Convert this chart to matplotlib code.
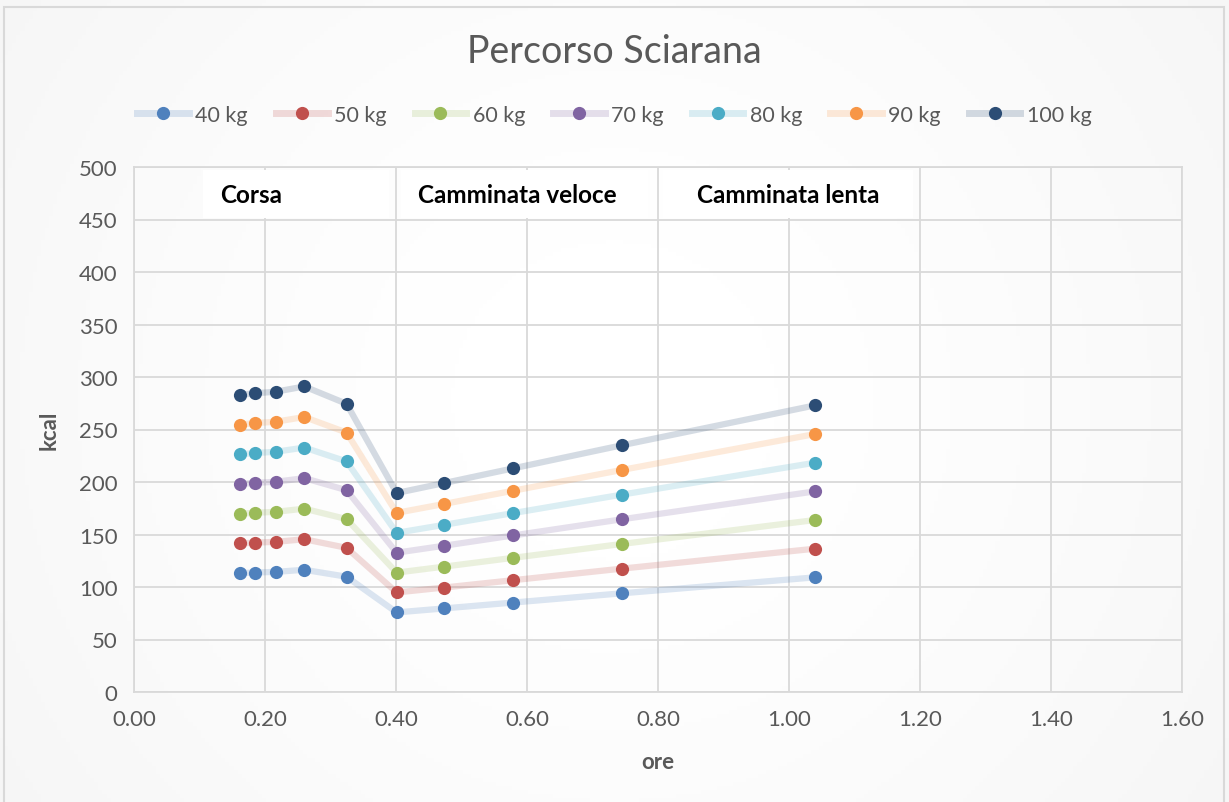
import numpy as np
import matplotlib.pyplot as plt
from matplotlib.lines import Line2D
from matplotlib.patches import Rectangle

plt.rcParams['font.family'] = ['Lato', 'DejaVu Sans']

# tempo (ore) e kcal consumate per peso corporeo
ore = [0.1625, 0.185, 0.2165, 0.26, 0.3245, 0.401, 0.4735, 0.579, 0.745, 1.04]
kcal_40 = [113.2, 113.8, 114.4, 116.4, 109.8, 75.8, 79.6, 85.2, 94.0, 109.2]
kcal_50 = [141.5, 142.3, 143.0, 145.5, 137.3, 94.8, 99.5, 106.5, 117.5, 136.5]
kcal_60 = [169.8, 170.7, 171.6, 174.6, 164.7, 113.7, 119.4, 127.8, 141.0, 163.8]
kcal_70 = [198.1, 199.2, 200.2, 203.7, 192.2, 132.7, 139.3, 149.1, 164.5, 191.1]
kcal_80 = [226.4, 227.6, 228.8, 232.8, 219.6, 151.6, 159.2, 170.4, 188.0, 218.4]
kcal_90 = [254.7, 256.1, 257.4, 261.9, 247.1, 170.6, 179.1, 191.7, 211.5, 245.7]
kcal_100 = [283.0, 284.5, 286.0, 291.0, 274.5, 189.5, 199.0, 213.0, 235.0, 273.0]

etichette = ['40 kg', '50 kg', '60 kg', '70 kg', '80 kg', '90 kg', '100 kg']
serie = [kcal_40, kcal_50, kcal_60, kcal_70, kcal_80, kcal_90, kcal_100]
colori = ['#4F81BD', '#C0504D', '#9BBB59', '#8064A2', '#4BACC6', '#F79646', '#2C4D75']

# riquadri delle fasi: (testo, x0, x1, allineamento)
fasi = [('Corsa', 0.105, 0.39, 'left'),
        ('Camminata veloce', 0.408, 0.785, 'left'),
        ('Camminata lenta', 0.808, 1.19, 'center')]

grigio = '#595959'

fig = plt.figure(figsize=(12.29, 8.03), dpi=100)

# sfondo con leggera sfumatura radiale
bg = fig.add_axes([0, 0, 1, 1], zorder=-10)
yy, xx = np.mgrid[-1:1:200j, -1:1:300j]
r = np.clip(np.sqrt((xx * 1.2) ** 2 + (yy * 0.8) ** 2) / 1.5, 0, 1)
bg.imshow(1 - 0.04 * r ** 1.5, cmap='gray', vmin=0, vmax=1, aspect='auto',
          extent=[0, 1, 0, 1])
bg.add_patch(Rectangle((4 / 1229, -0.01), 1220 / 1229, 1 - 8 / 803 + 0.01,
                       fill=False, edgecolor='#d9d9d9', linewidth=1.5))
bg.set_xlim(0, 1)
bg.set_ylim(0, 1)
bg.axis('off')

ax = fig.add_axes([134 / 1229, 1 - 693 / 803, 1048 / 1229, 525 / 803])
ax.set_facecolor('none')

for y, c, lab in zip(serie, colori, etichette):
    ax.plot(ore, y, color=c, alpha=0.2, linewidth=4.5, solid_capstyle='butt', zorder=3)
    ax.plot(ore, y, linestyle='none', marker='o', markersize=9.5,
            markerfacecolor=c, markeredgewidth=0, zorder=4)

for testo, x0, x1, al in fasi:
    ax.add_patch(Rectangle((x0, 451.5), x1 - x0, 45.5, facecolor='white',
                           edgecolor='none', zorder=2))
    tx = x0 + 0.026 if al == 'left' else (x0 + x1) / 2
    ax.text(tx, 474, testo, ha=al, va='center', fontsize=17.5,
            fontweight='bold', color='black', zorder=5)

ax.set_xlim(0, 1.6)
ax.set_ylim(0, 500)
ax.set_xticks(np.arange(0, 1.61, 0.2))
ax.set_xticklabels([f'{v:.2f}' for v in np.arange(0, 1.61, 0.2)])
ax.set_yticks(np.arange(0, 501, 50))
ax.grid(True, color='#d9d9d9', linewidth=1.3, zorder=1)
ax.set_axisbelow(True)
for s in ax.spines.values():
    s.set_color('#d9d9d9')
    s.set_linewidth(1.3)
ax.tick_params(length=0, labelsize=16, labelcolor=grigio, pad=12)

ax.set_xlabel('ore', fontsize=16, fontweight='bold', color=grigio, labelpad=16)
ax.set_ylabel('kcal', fontsize=16, fontweight='bold', color=grigio, labelpad=14)

fig.text(0.5, 1 - 52 / 803, 'Percorso Sciarana', ha='center', va='center',
         fontsize=27, color=grigio)

# voci di legenda: linea chiara con marker pieno sopra
maniglie = [(Line2D([0], [0], color=c, alpha=0.2, linewidth=5),
             Line2D([0], [0], color=c, marker='o', markersize=9.5,
                    markeredgewidth=0, linestyle='none'))
            for c in colori]
fig.legend(maniglie, etichette, loc='center', bbox_to_anchor=(0.5, 1 - 116 / 803),
           ncol=7, frameon=False, fontsize=15.5, labelcolor=grigio,
           handlelength=2.4, columnspacing=1.3, handletextpad=0.3)

fig.savefig('out.png', dpi=100)
